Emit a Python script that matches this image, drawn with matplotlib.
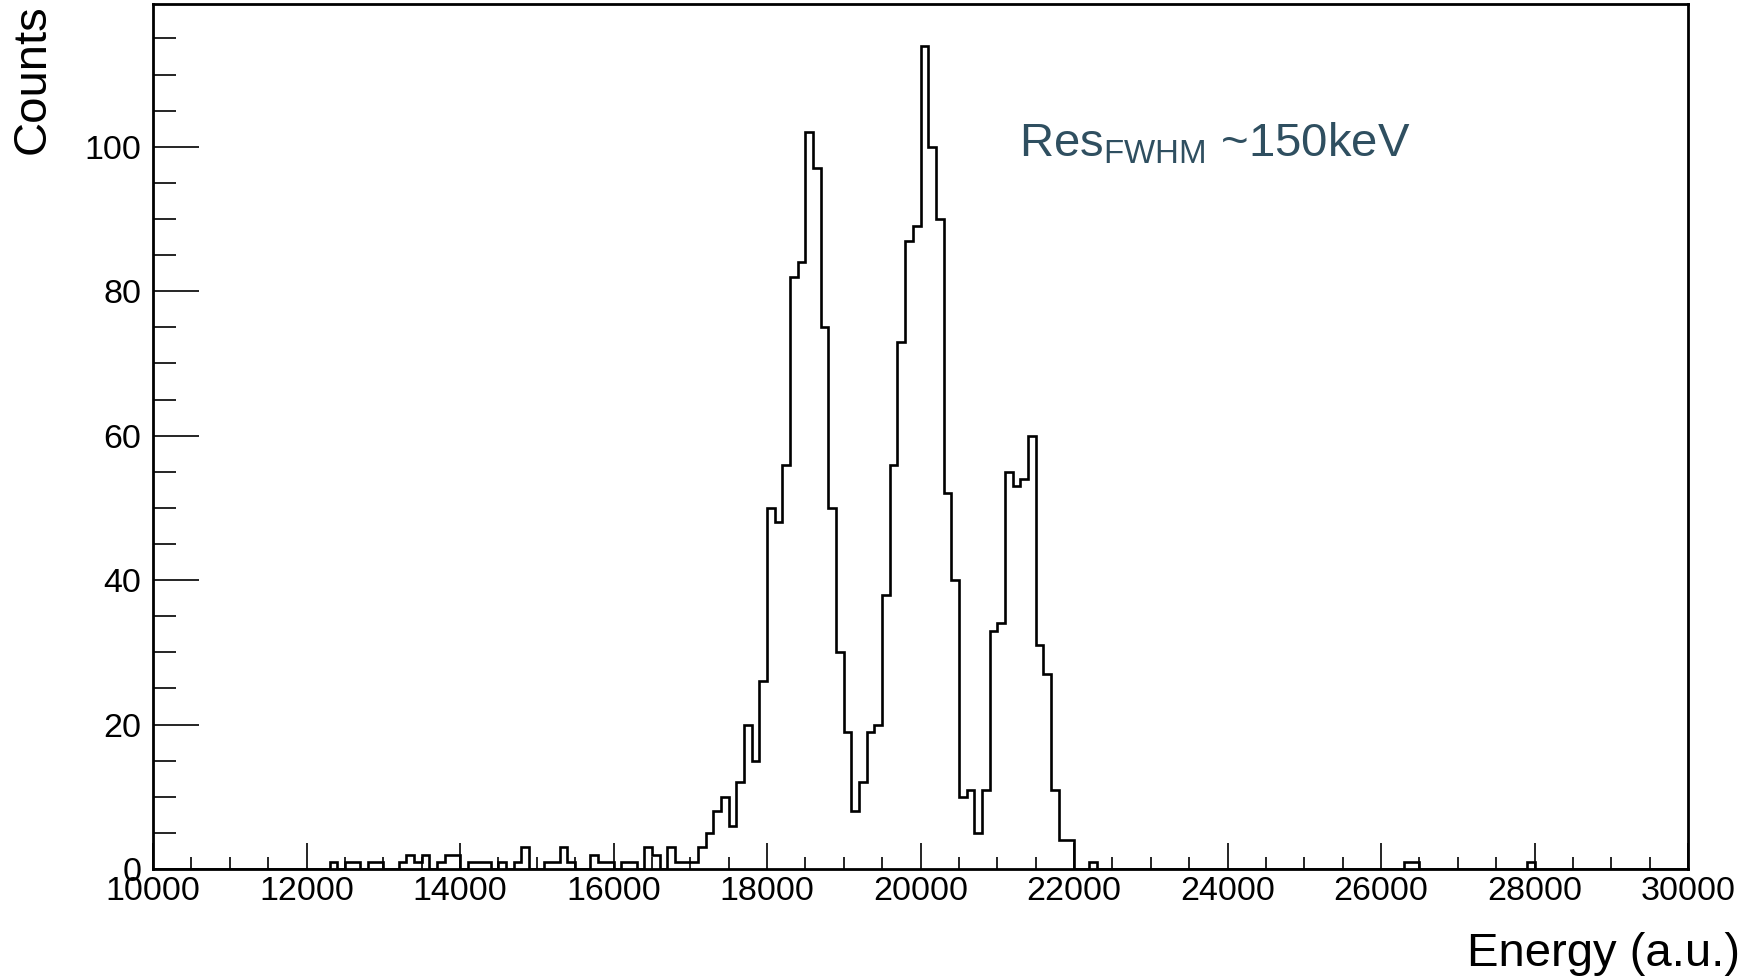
import numpy as np
import matplotlib
matplotlib.use("Agg")
import matplotlib.pyplot as plt
from matplotlib.ticker import MultipleLocator

plt.rcParams["font.family"] = ["Liberation Sans", "DejaVu Sans"]
plt.rcParams["mathtext.default"] = "regular"

# Histogram binning
x_min, x_max = 10000, 30000
bin_width = 100

# Lower edges of the non-empty bins and their counts
bin_low = [
    12300, 12500, 12600, 12800, 12900, 13200, 13300, 13400, 13500, 13700, 13800, 13900,
    14100, 14200, 14300, 14500, 14700, 14800, 15100, 15200, 15300, 15400, 15700, 15800, 15900,
    16100, 16200, 16400, 16500, 16700, 16800, 16900, 17000, 17100, 17200, 17300, 17400,
    17500, 17600, 17700, 17800, 17900,
    18000, 18100, 18200, 18300, 18400, 18500, 18600, 18700, 18800, 18900,
    19000, 19100, 19200, 19300, 19400, 19500, 19600, 19700, 19800, 19900,
    20000, 20100, 20200, 20300, 20400, 20500, 20600, 20700, 20800, 20900,
    21000, 21100, 21200, 21300, 21400, 21500, 21600, 21700, 21800, 21900,
    22200, 26300, 26400, 27900,
]
counts = [
    1, 1, 1, 1, 1, 1, 2, 1, 2, 1, 2, 2,
    1, 1, 1, 1, 1, 3, 1, 1, 3, 1, 2, 1, 1,
    1, 1, 3, 2, 3, 1, 1, 1, 3, 5, 8, 10,
    6, 12, 20, 15, 26,
    50, 48, 56, 82, 84, 102, 97, 75, 50, 30,
    19, 8, 12, 19, 20, 38, 56, 73, 87, 89,
    114, 100, 90, 52, 40, 10, 11, 5, 11, 33,
    34, 55, 53, 54, 60, 31, 27, 11, 4, 4,
    1, 1, 1, 1,
]

x_label = "Energy (a.u.)"
y_label = "Counts"
annotation = r"Res$_{FWHM}$ ~150keV"

W, H = 1760, 980
fig = plt.figure(figsize=(W / 100, H / 100), dpi=100)
ax_l, ax_r, ax_t, ax_b = 153, 1688, 4.5, 869
ax = fig.add_axes([ax_l / W, 1 - ax_b / H, (ax_r - ax_l) / W, (ax_b - ax_t) / H])

edges = np.arange(x_min, x_max + bin_width, bin_width)
centers = np.asarray(bin_low) + bin_width / 2
ax.hist(centers, bins=edges, weights=counts, histtype="step",
        color="black", linewidth=1.9)

ax.set_xlim(x_min, x_max)
ax.set_ylim(0, 1.05 * max(counts))

ax.xaxis.set_major_locator(MultipleLocator(2000))
ax.xaxis.set_minor_locator(MultipleLocator(500))
ax.yaxis.set_major_locator(MultipleLocator(20))
ax.yaxis.set_minor_locator(MultipleLocator(5))

ax.tick_params(axis="both", which="both", direction="in", top=False, right=False,
               width=1.2, color="black", labelsize=24.5)
ax.tick_params(axis="x", which="major", length=18.5, pad=5)
ax.tick_params(axis="x", which="minor", length=9)
ax.tick_params(axis="y", which="major", length=33, pad=8.5)
ax.tick_params(axis="y", which="minor", length=16.5)

for sp in ax.spines.values():
    sp.set_linewidth(2.0)

fig.text(11 / W, 1 - 4.5 / H, y_label, rotation=90, ha="left", va="top", fontsize=34)
fig.text(1740 / W, 1 - 976 / H, x_label, ha="right", va="bottom", fontsize=34)
fig.text(1019 / W, 1 - 157 / H, annotation, ha="left", va="baseline",
         fontsize=34, color="#2f4f60")

fig.savefig("out.png", dpi=100)
